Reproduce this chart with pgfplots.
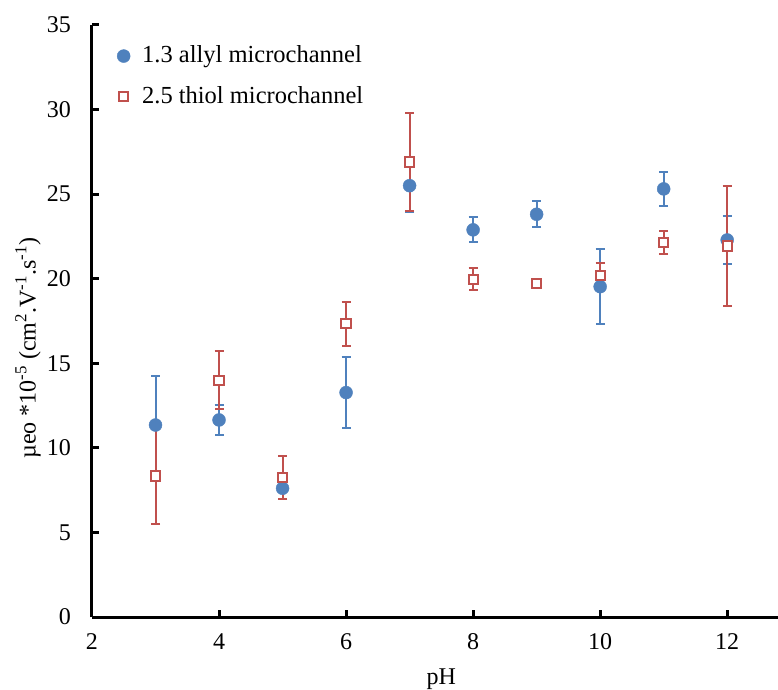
\documentclass[border=0pt]{standalone}
\usepackage{pgfplots}
\pgfplotsset{compat=1.18}
\usepackage{fontspec}
\setmainfont{Liberation Serif}
\definecolor{cblue}{HTML}{4F81BD}
\definecolor{cred}{HTML}{C0504D}
\begin{document}
\fontsize{24}{28}\selectfont
\begin{tikzpicture}
\useasboundingbox (-92pt,-72pt) rectangle (686pt,617pt);
\begin{axis}[at={(0,0)}, anchor=south west, scale only axis,
  width=686pt, height=592pt,
  xmin=2, xmax=12.8, ymin=0, ymax=35,
  xtick={2,4,...,12}, ytick={0,5,...,35},
  axis x line=bottom, axis y line=left,
  axis line style={-, line width=3pt, black},
  every outer x axis line/.append style={line width=3pt},
  every outer y axis line/.append style={line width=3pt},
  every tick/.append style={black, line width=3pt},
  major tick length=7pt, tick align=inside,
  /pgf/number format/assume math mode=true,
  font=\fontsize{24}{28}\selectfont,
  xticklabel style={yshift=-8pt},
  yticklabel style={xshift=-13pt},
  xlabel={pH}, ylabel={µeo *10\textsuperscript{-5} (cm\textsuperscript{2}.V\textsuperscript{-1}.s\textsuperscript{-1})},
  xlabel style={at={(axis description cs:0.509,-0.105)}, anchor=center},
  ylabel style={at={(axis description cs:-0.0933,0.454)}, anchor=center},
  legend style={draw=none, fill=none, at={(axis description cs:0.032,0.972)}, anchor=north west,
    font=\fontsize{24.5}{28}\selectfont, row sep=16pt,
    /tikz/every odd column/.append style={column sep=10pt}},
  legend cell align=left,
]
\addplot[only marks, mark=*, mark size=6.5pt, mark options={fill=cblue, draw=cblue},
  error bars/.cd, y dir=both, y explicit,
  error bar style={cblue, line width=2pt},
  error mark options={rotate=90, mark size=4.5pt, cblue, line width=2pt}]
table[x=x, y=y, y error=e] {
x y e
3 11.35 2.9
4 11.65 0.89
5 7.61 0.65
6 13.27 2.1
7 25.5 1.55
8 22.89 0.73
9 23.81 0.78
10 19.53 2.2
11 25.31 1.0
12 22.29 1.44
};
\addlegendentry{1.3 allyl microchannel}
\addplot[only marks, mark=square*, mark size=4.6pt, mark options={fill=white, draw=cred, line width=2pt},
  error bars/.cd, y dir=both, y explicit,
  error bar style={cred, line width=2pt},
  error mark options={rotate=90, mark size=4.5pt, cred, line width=2pt}]
table[x=x, y=y, y error=e] {
x y e
3 8.34 2.87
4 14.0 1.7
5 8.26 1.28
6 17.33 1.3
7 26.9 2.9
8 19.97 0.65
9 19.71 0.0
10 20.18 0.75
11 22.16 0.68
12 21.94 3.53
};
\addlegendentry{2.5 thiol microchannel}
\end{axis}
\end{tikzpicture}
\end{document}
